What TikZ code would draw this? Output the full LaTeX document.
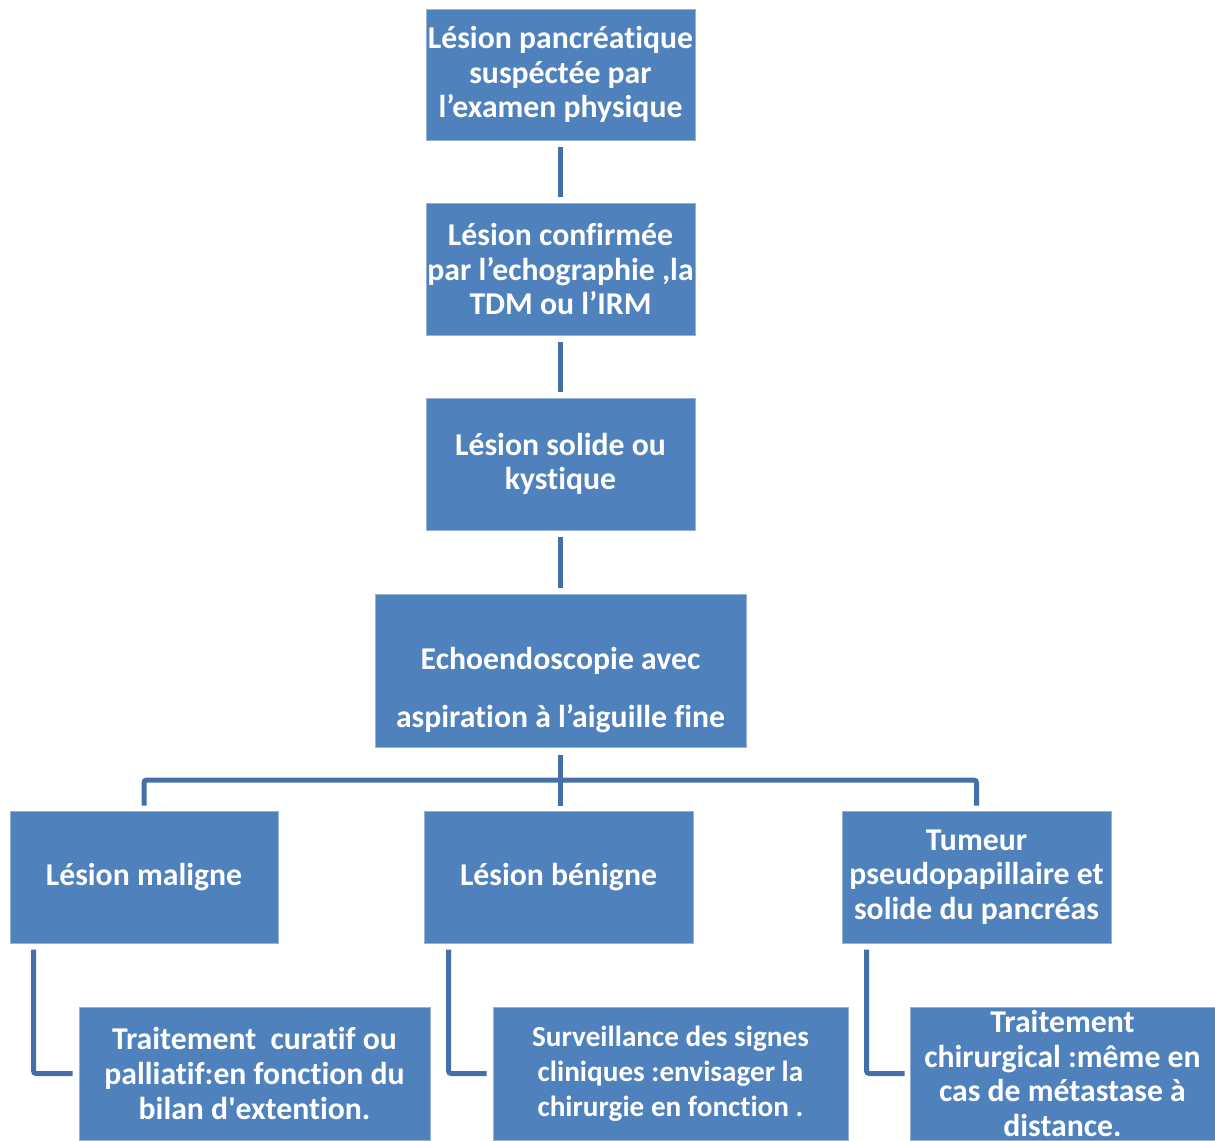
\documentclass[tikz,border=0pt]{standalone}
\usepackage{fontspec}
\setmainfont{Carlito}[RawFeature={-liga;-clig;-calt;-dlig}]
\usetikzlibrary{calc}
\newcommand{\pxu}{0.75pt}
\newcommand{\nl}{\kern0pt }
\definecolor{boxfill}{RGB}{79,129,189}
\definecolor{boxedge}{RGB}{150,178,215}
\definecolor{connc}{RGB}{68,112,168}
\tikzset{
  box/.style={rectangle, fill=boxfill, draw=boxedge, line width=0.75pt, inner sep=0pt,
    text=white, align=center, font=\bfseries\fontsize{23.8}{26}\selectfont},
  txt/.style={inner sep=0pt, text=white, align=center},
  conn/.style={draw=connc, line width=3.75pt}
}
\begin{document}
\begin{tikzpicture}[x=0.75pt,y=-0.75pt]
\useasboundingbox (0,0) rectangle (1215,1140);
\node[box, minimum width=269*\pxu, minimum height=131*\pxu] (n1) at (560.5,74.5)
  {Lésion pancréat\nl ique\\suspéctée par\\l’examen physique};
\node[box, minimum width=269*\pxu, minimum height=132*\pxu] (n2) at (560.5,269)
  {Lésion conf\nl irmée\\par l’echographie ,la\\TDM ou l’IRM};
\node[box, minimum width=269*\pxu, minimum height=132*\pxu] (n3) at (560.5,464)
  {Lésion solide ou\\kyst\nl ique};
\node[box, minimum width=371*\pxu, minimum height=153*\pxu] (n4) at (560.5,670.5) {};
\node[txt, font=\bfseries\fontsize{23.8}{43.5}\selectfont] (n4t) at ([yshift=-20*\pxu]n4.center)
  {Echoendoscopie avec\\aspirat\nl ion à l’aiguille f\nl ine};
\node[box, minimum width=268*\pxu, minimum height=132*\pxu] (n5) at (144,877)
  {Lésion maligne};
\node[box, minimum width=269*\pxu, minimum height=132*\pxu] (n6) at (558.5,877)
  {Lésion bénigne};
\node[box, minimum width=269*\pxu, minimum height=132*\pxu] (n7) at (976.5,877)
  {Tumeur\\pseudopapillaire et\\solide du pancréas};
\node[box, minimum width=351*\pxu, minimum height=133*\pxu] (n8) at (254.5,1073.5)
  {Traitement\ \ curat\nl if ou\\palliat\nl if:en fonct\nl ion du\\bilan d\textquotesingle extent\nl ion.};
\node[box, minimum width=355*\pxu, minimum height=133*\pxu,
  font=\bfseries\fontsize{21.9}{26.3}\selectfont] (n9) at (670.5,1073.5)
  {Surveillance des signes\\cliniques :envisager la\\chirurgie en fonct\nl ion .};
\node[box, minimum width=305*\pxu, minimum height=133*\pxu] (n10) at (1062.5,1073.5)
  {Traitement\\chirurgical :même en\\cas de métastase à\\distance.};
% vertical chain
\draw[conn, shorten <=6*\pxu, shorten >=6*\pxu] (n1.south) -- (n2.north);
\draw[conn, shorten <=6*\pxu, shorten >=6*\pxu] (n2.south) -- (n3.north);
\draw[conn, shorten <=6*\pxu, shorten >=6*\pxu] (n3.south) -- (n4.north);
% tree
\coordinate (hub) at (560.5,780);
\draw[conn, shorten <=7*\pxu, shorten >=5*\pxu] (n4.south) -- (n4.south |- n6.north);
\draw[conn, rounded corners=2pt, shorten <=5*\pxu, shorten >=5*\pxu]
  (n5.north) -- (n5.north |- hub) -- (n7.north |- hub) -- (n7.north);
% elbows
\draw[conn, rounded corners=2pt, shorten <=6*\pxu, shorten >=6*\pxu]
  ([xshift=24*\pxu]n5.south west) |- (n8.west);
\draw[conn, rounded corners=2pt, shorten <=6*\pxu, shorten >=6*\pxu]
  ([xshift=25*\pxu]n6.south west) |- (n9.west);
\draw[conn, rounded corners=2pt, shorten <=6*\pxu, shorten >=5*\pxu]
  ([xshift=25*\pxu]n7.south west) |- (n10.west);
\end{tikzpicture}
\end{document}
